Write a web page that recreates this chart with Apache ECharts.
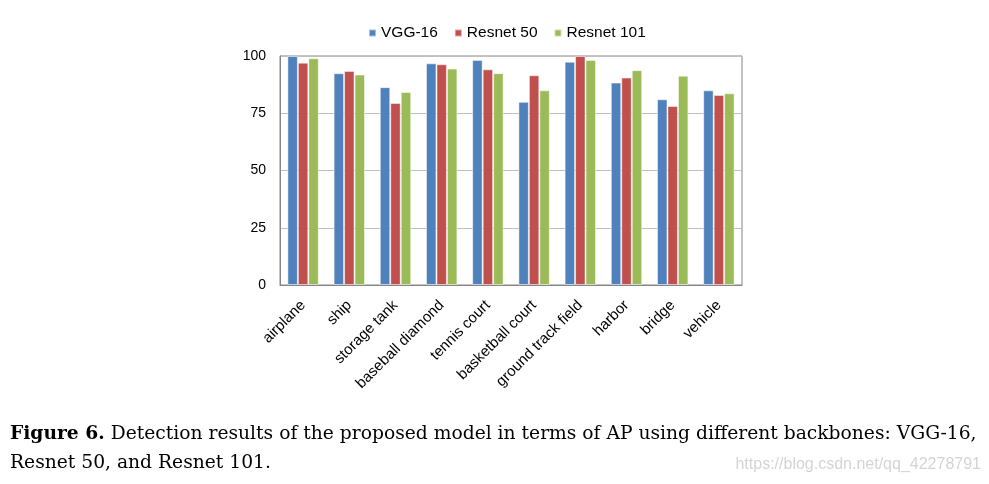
<!DOCTYPE html>
<html><head><meta charset="utf-8">
<script src="https://cdn.jsdelivr.net/npm/echarts@6/dist/echarts.min.js"></script>
<style>html,body{margin:0;padding:0;background:#fff}#c{width:989px;height:484px}</style>
</head><body><div id="c"></div>
<script>
const categories = ["airplane","ship","storage tank","baseball diamond","tennis court","basketball court","ground track field","harbor","bridge","vehicle"];
const vgg16 = [100, 92.5, 86.4, 96.8, 98.3, 80.0, 97.5, 88.4, 81.1, 85.0];
const resnet50 = [97.1, 93.5, 79.5, 96.4, 94.2, 91.6, 100, 90.6, 78.2, 83.0];
const resnet101 = [99.0, 91.9, 84.3, 94.5, 92.5, 85.0, 98.3, 93.8, 91.4, 83.7];
const seriesNames = ["VGG-16","Resnet 50","Resnet 101"];
const colors = ["#4F81BD","#C0504D","#9BBB59"];

const chart = echarts.init(document.getElementById('c'), null, {renderer:'canvas'});
const mk = (name, data, color) => ({
  name, type:'bar', data, barGap:'0%', barCategoryGap:'32%',
  itemStyle:{color, borderColor:'rgba(255,255,255,0.5)', borderWidth:1},
  emphasis:{disabled:true}
});
chart.setOption({
  animation:false,
  legend:{
    top:20, left:363, itemWidth:7, itemHeight:7, itemGap:16, icon:'rect',
    textStyle:{fontFamily:'Liberation Sans', fontSize:15.5, color:'#000'},
    data:seriesNames
  },
  grid:{left:280, right:247, top:56, bottom:199, show:true, borderColor:'#868686', borderWidth:1, backgroundColor:'transparent'},
  xAxis:{
    type:'category', data:categories,
    axisLine:{show:true, lineStyle:{color:'#868686'}},
    axisTick:{show:false},
    axisLabel:{rotate:45, interval:0, fontFamily:'Liberation Sans', fontSize:15, color:'#000', margin:18}
  },
  yAxis:{
    type:'value', min:0, max:100, interval:25,
    axisLine:{show:true, lineStyle:{color:'#868686'}},
    axisTick:{show:false},
    splitLine:{lineStyle:{color:'#bfbfbf'}},
    axisLabel:{fontFamily:'Liberation Sans', fontSize:14, color:'#000', margin:14}
  },
  series:[mk(seriesNames[0], vgg16, colors[0]), mk(seriesNames[1], resnet50, colors[1]), mk(seriesNames[2], resnet101, colors[2])],
  graphic:[
    {type:'text', left:10, top:425, style:{
      text:'{b|Figure 6.} Detection results of the proposed model in terms of AP using different backbones: VGG-16,',
      rich:{b:{fontFamily:'DejaVu Serif', fontSize:18.7, fontWeight:'bold', fill:'#000'}},
      fontFamily:'DejaVu Serif', fontSize:18.7, fill:'#000'}},
    {type:'text', left:10, top:454, style:{text:'Resnet 50, and Resnet 101.', fontFamily:'DejaVu Serif', fontSize:18.7, fill:'#000'}},
    {type:'text', right:8, top:457, style:{text:'https://blog.csdn.net/qq_42278791', fontFamily:'Liberation Sans', fontSize:16, fill:'#d4d4d4'}}
  ]
});
</script></body></html>
